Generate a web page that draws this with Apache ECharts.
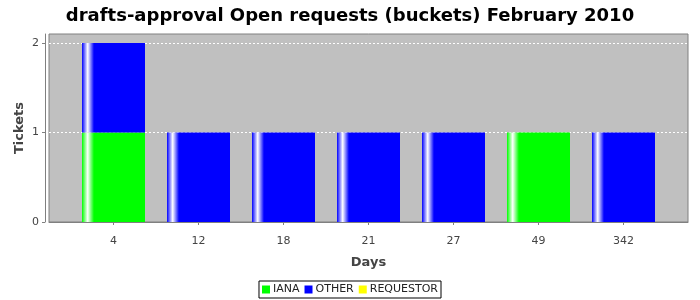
<!DOCTYPE html>
<html><head><meta charset="utf-8">
<script src="https://cdn.jsdelivr.net/npm/echarts@6/dist/echarts.min.js"></script>
<style>html,body{margin:0;padding:0;background:#fff}#c{width:700px;height:300px}</style>
</head><body><div id="c"></div>
<script>
const categories = ['4', '12', '18', '21', '27', '49', '342'];
const ianaValues = [1, 0, 0, 0, 0, 1, 0];
const otherValues = [1, 1, 1, 1, 1, 0, 1];
const requestorValues = [0, 0, 0, 0, 0, 0, 0];
const yTicks = [0, 1, 2];

const FONT = 'DejaVu Sans';
function grad(c) {
  return new echarts.graphic.LinearGradient(0, 0, 1, 0, [
    {offset: 0, color: c}, {offset: 0.09, color: '#ffffff'},
    {offset: 0.19, color: c}, {offset: 1, color: c}
  ]);
}
const seriesDefs = [
  {name: 'IANA', data: ianaValues, color: '#00ff00'},
  {name: 'OTHER', data: otherValues, color: '#0000ff'},
  {name: 'REQUESTOR', data: requestorValues, color: '#ffff00'}
];
const chart = echarts.init(document.getElementById('c'), null, {renderer: 'canvas'});
chart.setOption({
  animation: false,
  backgroundColor: '#ffffff',
  title: {
    text: 'drafts-approval Open requests (buckets) February 2010',
    left: 'center', top: 2,
    textStyle: {fontFamily: FONT, fontSize: 18, fontWeight: 'bold', color: '#000'}
  },
  legend: {
    bottom: 2, left: 'center',
    data: seriesDefs.map(s => ({name: s.name, icon: 'rect', itemStyle: {color: s.color}})),
    itemWidth: 8, itemHeight: 8, itemGap: 5,
    borderColor: '#000', borderWidth: 1, backgroundColor: '#fff',
    padding: [3, 3], borderRadius: 0,
    textStyle: {fontFamily: FONT, fontSize: 11, color: '#222', padding: [0, 0, 0, -2]}
  },
  grid: [
    {left: 49, right: 12, top: 34, bottom: 78, show: true, backgroundColor: '#c0c0c0', borderColor: '#808080', borderWidth: 1},
    {left: 71, right: 34, top: 34, bottom: 78}
  ],
  xAxis: [
    {gridIndex: 0, type: 'category', data: categories, offset: 3,
     axisLine: {show: true, lineStyle: {color: '#808080'}}, axisTick: {show: false}, axisLabel: {show: false}, splitLine: {show: false}},
    {gridIndex: 1, type: 'category', data: categories, offset: 3,
     name: 'Days', nameLocation: 'middle', nameGap: 31, nameMoveOverlap: false,
     nameTextStyle: {fontFamily: FONT, fontSize: 13, fontWeight: 'bold', color: '#444'},
     axisLine: {show: false}, axisTick: {show: true, alignWithLabel: true, length: 3, lineStyle: {color: '#808080'}},
     axisLabel: {fontFamily: FONT, fontSize: 11, color: '#444', margin: 11}}
  ],
  yAxis: [
    {gridIndex: 0, type: 'value', min: 0, max: 2.1, interval: 1, offset: 4,
     name: 'Tickets', nameLocation: 'middle', nameGap: 19, nameRotate: 90, nameMoveOverlap: false,
     nameTextStyle: {fontFamily: FONT, fontSize: 13, fontWeight: 'bold', color: '#444'},
     axisLine: {show: true, lineStyle: {color: '#808080'}},
     axisTick: {show: true, length: 3, customValues: yTicks, lineStyle: {color: '#808080'}},
     axisLabel: {fontFamily: FONT, fontSize: 11, color: '#444', margin: 6, customValues: yTicks},
     splitLine: {show: true, showMinLine: false, showMaxLine: true, lineStyle: {color: '#ffffff', type: [2, 2], width: 1}}},
    {gridIndex: 1, type: 'value', min: 0, max: 2.1, show: false, splitLine: {show: false}}
  ],
  series: seriesDefs.map(s => ({
    name: s.name, type: 'bar', stack: 'all', xAxisIndex: 1, yAxisIndex: 1,
    data: s.data, barWidth: 63,
    itemStyle: {color: grad(s.color)}
  }))
});
</script></body></html>
